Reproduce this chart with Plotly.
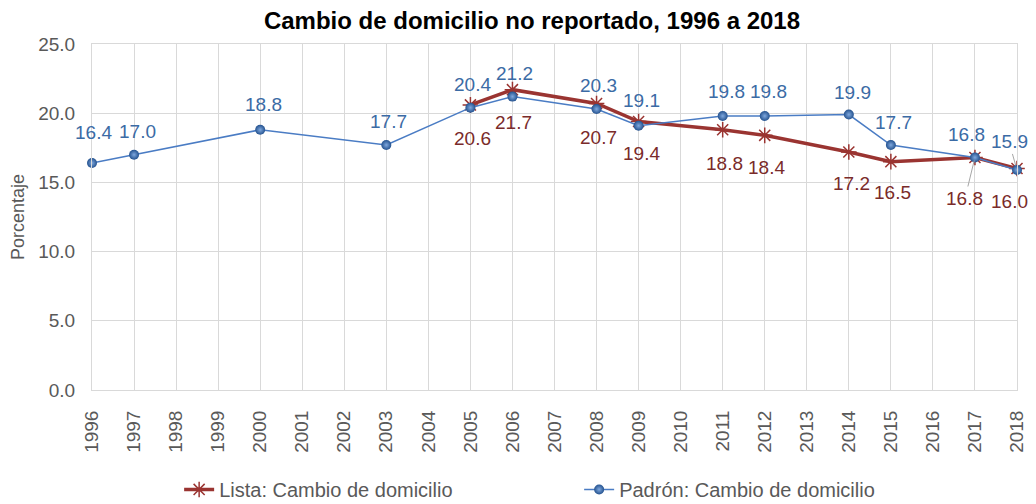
import plotly.graph_objects as go

# ---- data ----
years_all = list(range(1996, 2019))
years_padron = [1996, 1997, 2000, 2003, 2005, 2006, 2008, 2009, 2011, 2012, 2014, 2015, 2017, 2018]
padron = [16.4, 17.0, 18.8, 17.7, 20.4, 21.2, 20.3, 19.1, 19.8, 19.8, 19.9, 17.7, 16.8, 15.9]
years_lista = [2005, 2006, 2008, 2009, 2011, 2012, 2014, 2015, 2017, 2018]
lista = [20.6, 21.7, 20.7, 19.4, 18.8, 18.4, 17.2, 16.5, 16.8, 16.0]
y_ticks = [0, 5, 10, 15, 20, 25]

title = "Cambio de domicilio no reportado, 1996 a 2018"
name_lista = "Lista: Cambio de domicilio"
name_padron = "Padrón: Cambio de domicilio"

# ---- label placement (pixel offsets from each point) ----
padron_dx = [1, 3, 3, 2, 2, 2, 2, 3, 4, 4, 4, 3, -8, -8]
padron_dy = [-31, -23, -25, -24, -23, -23, -24, -25, -24, -24, -22, -23, -23, -28]
padron_leader = [False] * 13 + [True]
lista_dx = [2, 1, 2, 3, 2, 2, 3, 2, -10, -8]
lista_dy = [34, 33, 34, 32, 34, 32, 32, 31, 41, 33]
lista_leader = [False] * 8 + [True, False]

FONT = "Liberation Sans, Arial, sans-serif"
RED = "#9A3431"
RED_TXT = "#7A2B2A"
BLUE = "#4A7CC4"
BLUE_TXT = "#3B6BA5"
GRID = "#D9D9D9"
TXT = "#595959"

fig = go.Figure()

fig.add_trace(go.Scatter(
    x=years_lista, y=lista, name=name_lista, mode="lines+markers",
    line=dict(color=RED, width=3.5),
    marker=dict(symbol="asterisk-open", size=13, color=RED, line=dict(color=RED, width=1.5)),
    cliponaxis=False,
))
fig.add_trace(go.Scatter(
    x=years_padron, y=padron, name=name_padron, mode="lines+markers",
    line=dict(color=BLUE, width=1.5),
    marker=dict(symbol="circle", size=10, color="#24528F",
                gradient=dict(type="radial", color="#7FA8DE"),
                line=dict(width=0)),
    cliponaxis=False,
))

annotations = []
for x, v, dx, dy, lead in zip(years_padron, padron, padron_dx, padron_dy, padron_leader):
    annotations.append(dict(
        x=x, y=v, xref="x", yref="y", text=f"{v:.1f}", showarrow=True,
        ax=dx, ay=dy, arrowhead=0, arrowwidth=1, standoff=5,
        arrowcolor="#A6A6A6" if lead else "rgba(0,0,0,0)",
        font=dict(family=FONT, size=19, color=BLUE_TXT),
    ))
for x, v, dx, dy, lead in zip(years_lista, lista, lista_dx, lista_dy, lista_leader):
    annotations.append(dict(
        x=x, y=v, xref="x", yref="y", text=f"{v:.1f}", showarrow=True,
        ax=dx, ay=dy, arrowhead=0, arrowwidth=1, standoff=3,
        arrowcolor="#A6A6A6" if lead else "rgba(0,0,0,0)",
        font=dict(family=FONT, size=19, color=RED_TXT),
    ))

# page body has an 8px margin: figure is sized/offset to compensate
fig.update_layout(
    width=1028, height=496,
    margin=dict(l=84, r=19, t=36, b=114, autoexpand=False),
    paper_bgcolor="white", plot_bgcolor="white",
    title=dict(text=f"<b>{title}</b>", x=0.5097, xanchor="center", y=0.975, yanchor="middle",
               font=dict(family=FONT, size=24, color="black")),
    font=dict(family=FONT, color=TXT),
    showlegend=True,
    legend=dict(orientation="h", x=0.0942, xanchor="left", y=-0.231, yanchor="top",
                entrywidth=355, entrywidthmode="pixels",
                font=dict(family=FONT, size=20, color=TXT), bgcolor="rgba(0,0,0,0)"),
    annotations=annotations,
    hovermode=False,
)
fig.update_xaxes(
    range=[1996, 2018], tickmode="array", tickvals=years_all, ticktext=[str(y) for y in years_all],
    tickangle=-90, tickfont=dict(family=FONT, size=19, color=TXT),
    showgrid=True, gridcolor=GRID, gridwidth=1, zeroline=False, automargin=False,
    showline=True, linecolor=GRID, linewidth=1, mirror=True, ticks="", ticklabelstandoff=12,
)
fig.update_yaxes(
    range=[0, 25], tickmode="array", tickvals=y_ticks, ticktext=[f"{t:.1f}" for t in y_ticks],
    tickfont=dict(family=FONT, size=19, color=TXT), automargin=False,
    showgrid=True, gridcolor=GRID, gridwidth=1, zeroline=False,
    showline=True, linecolor=GRID, linewidth=1, mirror=True, ticks="", ticklabelstandoff=12,
    title=dict(text="Porcentaje", font=dict(family=FONT, size=18, color=TXT), standoff=8),
)

fig.write_html("out.html")
